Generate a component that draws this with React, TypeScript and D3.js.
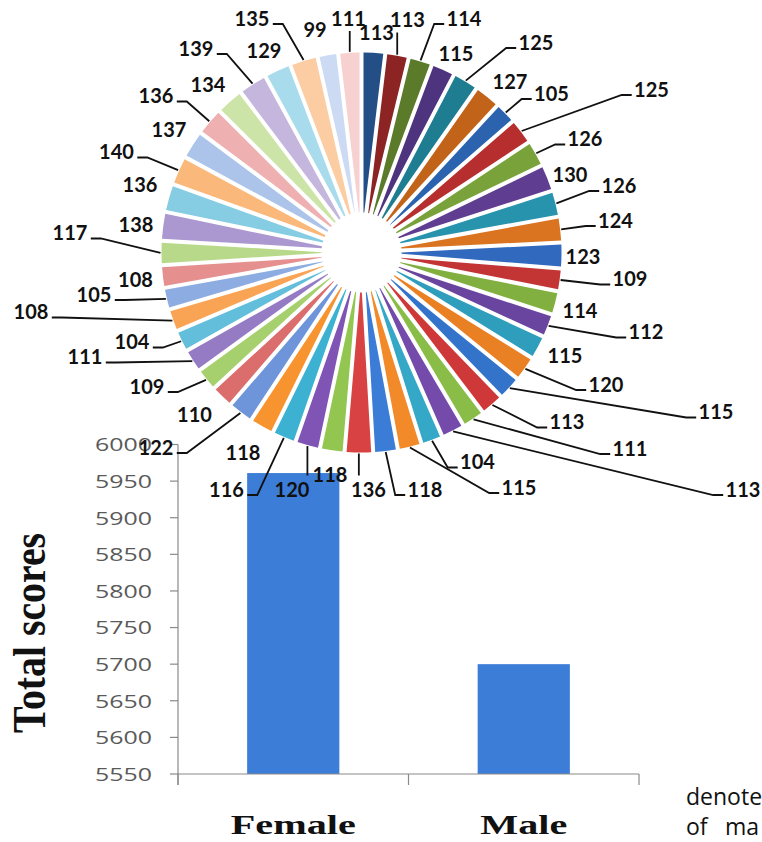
import React from 'react';
import * as d3 from 'd3';

// Individual female scores (pie slices, clockwise from 12 o'clock)
const SCORES = [
  113, 113, 114, 115, 125, 127, 105, 125, 126, 130,
  126, 124, 123, 109, 114, 112, 115, 120, 115, 113,
  111, 113, 104, 115, 118, 136, 118, 120, 116, 118,
  122, 110, 109, 111, 104, 108, 105, 108, 117, 138,
  136, 140, 137, 136, 134, 139, 129, 135, 99, 111,
];

// Bar chart data
const CATEGORIES = ['Female', 'Male'];
const TOTALS = [5961, 5700];
const Y_TICKS = [5550, 5600, 5650, 5700, 5750, 5800, 5850, 5900, 5950, 6000];

// Label layout (offsets of each label centre from the pie centre, px)
const LABEL_OFFSETS: [number, number][] = [
  [15, -219.5], [46, -232.5], [102.5, -234], [94.5, -199], [174.5, -210],
  [148.5, -171], [190, -159], [290, -163], [223.5, -113.5], [208.5, -78],
  [257.5, -67], [254, -32], [221.5, 4.5], [268.5, 26.5], [218.5, 58],
  [284.5, 79.5], [203.5, 103], [244.5, 132], [354.5, 159.5], [205.5, 169.5],
  [268.5, 196], [381.5, 237], [116, 209.5], [157.5, 235], [63.5, 237],
  [7, 237], [-31.5, 222], [-69.5, 237], [-135, 237], [-118.5, 200],
  [-205.5, 195], [-167, 162], [-214.5, 134], [-276.5, 104.5], [-229.5, 89.5],
  [-330.5, 59.5], [-267.5, 42], [-226, 27], [-291.5, -19.5], [-225.5, -28],
  [-221.5, -67.5], [-245, -100.5], [-192.5, -123], [-205.5, -156.5], [-153.5, -167.5],
  [-165.5, -204], [-97.5, -202], [-109.5, -234], [-46.5, -222.5], [-13, -234],
];
const HAS_LEADER = [
  0, 1, 1, 0, 1, 0, 1, 1, 1, 0,
  1, 1, 0, 1, 0, 1, 0, 1, 1, 1,
  1, 1, 1, 1, 1, 1, 0, 1, 1, 0,
  1, 0, 1, 1, 1, 1, 1, 0, 1, 0,
  0, 1, 0, 1, 0, 1, 0, 1, 0, 1,
];

const SLICE_COLORS = [
  '#234E86', '#8C2424', '#5B7A2A', '#4E347E', '#1E7D90', '#C2631A',
  '#2C63AE', '#B72E2E', '#79A33A', '#5F3D91', '#2793AD', '#DA7420',
  '#3069BE', '#C33434', '#82B040', '#6A459F', '#2F9EBD', '#EA8024',
  '#3473CA', '#CF3838', '#8ABD47', '#744BAA', '#35A8C7', '#F28A2A',
  '#3A7CD6', '#D94242', '#93C650', '#7F54B5', '#3DB1D1', '#F7942F',
  '#6E95DA', '#DB6D6D', '#A6CF6E', '#957BC3', '#62BEDA', '#F9A455',
  '#8DADE2', '#E58F8F', '#B9D98A', '#AC98D0', '#86CDE3', '#FBB87B',
  '#ACC4EA', '#EEB0B0', '#CDE4A8', '#C4B6DD', '#A8DCEC', '#FCCCA2',
  '#CCDBF3', '#F7D0D0',
];

const BAR_COLOR = '#3C7DD7';
const AXIS_COLOR = '#8A8A8A';

export default function App() {
  const W = 762;
  const H = 842;

  // ---- bar chart ----
  const x = d3
    .scaleBand<string>()
    .domain(CATEGORIES)
    .range([178, 639])
    .paddingInner(0.6)
    .paddingOuter(0.3);
  const y = d3.scaleLinear().domain([5550, 6000]).range([774, 444.5]);
  const [x0, x1] = x.range();
  const yBase = y(5550);
  const boundaries = [...CATEGORIES.map((_, i) => x0 + i * x.step()), x1];

  // ---- pie ----
  const cx = 361.5;
  const cy = 252.5;
  const R = 200;
  const pie = d3.pie<number>().sort(null).value((d) => d);
  const arcs = pie(SCORES);
  const arc = d3
    .arc<d3.PieArcDatum<number>>()
    .innerRadius(40)
    .outerRadius(R)
    .padAngle(0.02)
    .padRadius(R);
  const line = d3.line();

  return (
    <svg
      width={W}
      height={H}
      viewBox={`0 0 ${W} ${H}`}
      style={{ position: 'absolute', left: 0, top: 0, background: '#fff' }}
    >
      <rect x={0} y={0} width={W} height={H} fill="#fff" />

      {/* Bar chart */}
      <g>
        {CATEGORIES.map((c, i) => (
          <rect
            key={c}
            x={x(c)}
            y={y(TOTALS[i])}
            width={x.bandwidth()}
            height={yBase - y(TOTALS[i])}
            fill={BAR_COLOR}
          />
        ))}
        {/* y axis */}
        <line x1={x0} x2={x0} y1={y(6000)} y2={yBase + 11} stroke={AXIS_COLOR} strokeWidth={1.2} />
        {Y_TICKS.map((t) => (
          <g key={t}>
            <line x1={x0 - 8} x2={x0} y1={y(t)} y2={y(t)} stroke={AXIS_COLOR} strokeWidth={1.2} />
            <text
              x={152}
              y={y(t)}
              dy="0.36em"
              textAnchor="end"
              fontFamily="'Open Sans', sans-serif"
              fontSize={19}
              fill="#5a5a5a"
              textLength={57}
              lengthAdjust="spacingAndGlyphs"
            >
              {t}
            </text>
          </g>
        ))}
        {/* x axis */}
        <line x1={x0} x2={x1} y1={yBase} y2={yBase} stroke={AXIS_COLOR} strokeWidth={1.2} />
        {boundaries.map((b, i) => (
          <line key={i} x1={b} x2={b} y1={yBase} y2={yBase + 11} stroke={AXIS_COLOR} strokeWidth={1.2} />
        ))}
        {CATEGORIES.map((c, i) => (
          <text
            key={c}
            x={(x(c) as number) + x.bandwidth() / 2}
            y={834}
            textAnchor="middle"
            fontFamily="'Liberation Serif', 'Times New Roman', serif"
            fontWeight="bold"
            fontSize={28}
            fill="#111"
            textLength={i === 0 ? 125 : 87}
            lengthAdjust="spacingAndGlyphs"
          >
            {c}
          </text>
        ))}
        <text
          transform="translate(45,633) scale(1.35,1) rotate(-90)"
          textAnchor="middle"
          fontFamily="'Liberation Serif', 'Times New Roman', serif"
          fontWeight="bold"
          fontSize={34}
          fill="#111"
          textLength={200}
          lengthAdjust="spacingAndGlyphs"
        >
          Total scores
        </text>
      </g>

      {/* Pie chart */}
      <g transform={`translate(${cx},${cy})`}>
        {arcs.map((d, i) => (
          <path key={i} d={arc(d) as string} fill={SLICE_COLORS[i % SLICE_COLORS.length]} />
        ))}
      </g>
      <g>
        {arcs.map((d, i) => {
          const a = (d.startAngle + d.endAngle) / 2;
          const px = cx + (R + 1) * Math.sin(a);
          const py = cy - (R + 1) * Math.cos(a);
          const lx = cx + LABEL_OFFSETS[i][0];
          const ly = cy + LABEL_OFFSETS[i][1];
          const hw = String(d.data).length * 5.6;
          let pts: [number, number][] | null = null;
          if (HAS_LEADER[i]) {
            if (px > lx + hw) {
              const ex = lx + hw + 4;
              pts = [[px, py], [ex + 10, ly + 5.5], [ex, ly + 5.5]];
            } else if (px < lx - hw) {
              const ex = lx - hw - 3;
              pts = [[px, py], [ex - 10, ly + 5.5], [ex, ly + 5.5]];
            } else {
              const ey = ly > py ? ly - 14 : ly + 12.5;
              pts = [[px, py], [px, ey]];
            }
          }
          return (
            <g key={i}>
              {pts && (
                <path d={line(pts) as string} fill="none" stroke="#111" strokeWidth={1.8} />
              )}
              <text
                x={lx}
                y={ly}
                dy="0.36em"
                textAnchor="middle"
                fontFamily="Lato, 'Open Sans', sans-serif"
                fontWeight="bold"
                fontSize={20}
                fill="#111"
              >
                {d.data}
              </text>
            </g>
          );
        })}
      </g>

      {/* Surrounding document text (cut off at the right edge, as in the source) */}
      <text x={686} y={805} fontFamily="'Open Sans', sans-serif" fontSize={23} fill="#111">
        denote
      </text>
      <text y={835} fontFamily="'Open Sans', sans-serif" fontSize={23} fill="#111">
        <tspan x={686}>of</tspan>
        <tspan x={725}>ma</tspan>
      </text>
    </svg>
  );
}
